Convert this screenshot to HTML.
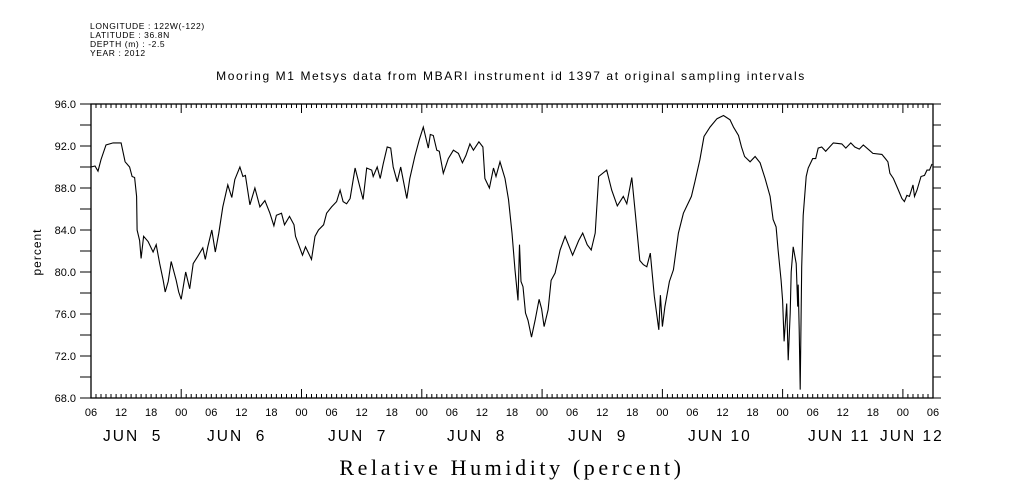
<!DOCTYPE html>
<html><head><meta charset="utf-8"><style>
html,body{margin:0;padding:0;background:#fff}
svg{display:block}
text{font-family:"Liberation Sans",sans-serif;fill:#000}
</style></head><body>
<svg id="chart" width="1009" height="504" viewBox="0 0 1009 504" xmlns="http://www.w3.org/2000/svg">
<g font-size="8.5" letter-spacing="0.6">
<text x="90" y="29">LONGITUDE : 122W(-122)</text>
<text x="90" y="38">LATITUDE : 36.8N</text>
<text x="90" y="47">DEPTH (m) : -2.5</text>
<text x="90" y="56">YEAR : 2012</text>
</g>
<text x="511" y="80" font-size="12" letter-spacing="1.6" text-anchor="middle">Mooring M1 Metsys data from MBARI instrument id 1397 at original sampling intervals</text>
<text transform="translate(41,252) rotate(-90)" font-size="12" letter-spacing="1" text-anchor="middle">percent</text>
<text x="512" y="475" font-size="22" letter-spacing="3.6" text-anchor="middle" style="font-family:'Liberation Serif',serif">Relative Humidity (percent)</text>
<g id="axes"></g>
<g id="series"></g>
</svg>
<script>
const hours=[0,0.8,1.4,2,3,4.4,6,6.8,7.7,8.2,8.7,9.1,9.2,9.7,10,10.5,11.4,12.4,13,13.7,14.4,14.8,15.4,16,17,17.5,18,18.9,19.7,20.4,21.3,22.3,22.8,23.3,24.1,24.8,25.5,26.3,27.3,28.1,28.7,29.7,30.3,30.8,31.7,32.7,33.7,34.7,35.7,36.5,37,38,38.6,39.6,40.5,40.8,42.2,42.8,43.3,44,44.7,45.4,46.4,47,48,49,49.7,50.3,51,51.7,52.7,53.7,54.3,55,56,56.3,57.1,57.7,58.3,59.1,59.8,60.3,61.1,61.8,63,63.6,64.6,65.5,66.3,67.3,67.7,68.3,69,69.5,70.3,71.3,72.3,73.3,74.1,74.8,75.6,76.3,77.4,78.2,78.6,79.5,80.3,80.8,81.6,82.6,83.3,84,84.6,85.2,85.5,85.8,86.2,86.7,87.2,87.9,88.6,89.4,89.9,90.4,91.2,91.8,92.6,93.6,94.6,96.1,97.3,98.1,99,99.8,100.6,101.3,102.9,103.9,105,106.2,106.9,107.9,108.6,109.5,110.2,110.9,111.6,112.4,113.3,113.6,114,114.5,115.4,116.2,117.2,118.2,119.8,120.5,121.5,122.3,123.5,124.9,126.2,127.5,128.2,129.2,129.8,130.4,131.5,132.5,133.5,134.5,135.5,136.1,136.7,137.1,137.7,138,138.3,138.8,139.1,139.5,139.7,140.1,140.7,141,141.1,141.3,141.5,141.8,142.1,142.7,143.1,144,144.6,145.1,145.8,146.6,148.1,149.8,150.6,151.6,152.4,153.3,154.1,155.3,156,157.8,158.5,159,159.4,160.1,161.1,161.8,162.3,162.8,163.3,164,164.3,164.8,165.6,166.3,166.8,167.3,167.8];
const values=[90,90.1,89.6,90.7,92.1,92.3,92.3,90.5,90,89.1,89,87.2,84,83,81.3,83.4,82.9,81.9,82.6,80.8,79.2,78.1,79.1,81,79.2,78.1,77.4,80,78.4,80.8,81.5,82.3,81.2,82.4,84,81.9,83.7,86.2,88.3,87.1,88.8,90,89.1,89.2,86.4,88,86.2,86.8,85.6,84.4,85.4,85.6,84.5,85.3,84.5,83.4,81.6,82.4,81.9,81.2,83.4,84,84.5,85.6,86.2,86.7,87.8,86.7,86.5,87,89.9,88,86.9,89.9,89.7,89.1,90,88.9,90.3,91.9,91.8,90,88.6,90,87,88.9,91,92.6,93.8,91.8,93.1,93,91.6,91.5,89.4,90.8,91.6,91.3,90.4,91.1,92.2,91.6,92.4,91.9,88.9,88,89.9,89.1,90.5,88.9,86.9,83.7,80.2,77.3,82.6,79.1,78.6,76.1,75.4,73.8,75.4,77.4,76.5,74.8,76.4,79.2,79.9,82.1,83.4,81.6,83,83.7,82.6,82.1,83.7,89.1,89.7,87.8,86.3,87.2,86.5,89,85.6,81.1,80.7,80.5,81.8,77.7,74.5,77.8,74.8,76.7,79.1,80.2,83.7,85.6,87.2,88.6,90.7,92.9,93.8,94.6,94.9,94.5,93.8,93,91.9,91,90.5,91,90.4,88.9,87.2,85,84.3,82.1,79.2,77.3,73.4,77,71.6,76.1,80,82.4,80.8,76.7,78.8,74.5,68.8,80.5,85.4,89.1,89.9,90.8,90.8,91.8,91.9,91.5,92.3,92.2,91.8,92.3,91.9,91.7,92.1,91.6,91.3,91.2,90.8,90.5,89.4,88.9,87.8,87,86.7,87.3,87.2,88.3,87.2,87.8,89.1,89.2,89.7,89.7,90.3];
const yTickValues=[68,72,76,80,84,88,92,96];
const yTickLabels=["68.0","72.0","76.0","80.0","84.0","88.0","92.0","96.0"];
const xTickHours=[0,6,12,18,24,30,36,42,48,54,60,66,72,78,84,90,96,102,108,114,120,126,132,138,144,150,156,162,168];
const xTickLabels=["06","12","18","00","06","12","18","00","06","12","18","00","06","12","18","00","06","12","18","00","06","12","18","00","06","12","18","00","06"];
const dateLabels=["JUN  5","JUN  6","JUN  7","JUN  8","JUN  9","JUN 10","JUN 11","JUN 12"];
const dateLabelX=[103,207,328,447,568,688,808,880];

const L=91,R=933,T=104,B=398,H0=0,H1=168,V0=68,V1=96;
const xs=h=>L+(h-H0)/(H1-H0)*(R-L);
const ys=v=>B-(v-V0)/(V1-V0)*(B-T);
const NS="http://www.w3.org/2000/svg";
const axes=document.getElementById('axes');
function mk(tag,attrs,parent){const e=document.createElementNS(NS,tag);for(const k in attrs)e.setAttribute(k,attrs[k]);parent.appendChild(e);return e;}
const frame=mk('rect',{x:L,y:T,width:R-L,height:B-T,fill:'none',stroke:'#000','stroke-width':1.3},axes);


let d='';
for(let h=0;h<=168;h++){
  const x=xs(h).toFixed(1);
  const midnight=((h+6)%24===0);
  const len=midnight?9:4;
  d+=`M${x},${T}v${len}M${x},${B}v${-len}`;
}
for(let v=68;v<=96;v+=2){
  const y=ys(v).toFixed(1);
  d+=`M${L},${y}h-11M${R},${y}h8`;
}
const ticks=mk('path',{d:d,stroke:'#000','stroke-width':1,fill:'none'},axes);


yTickValues.forEach((v,i)=>{
  const t=mk('text',{x:76,y:ys(v)+4,'font-size':11,'text-anchor':'end'},axes);
  
  
  t.textContent=yTickLabels[i];
});
xTickHours.forEach((h,i)=>{
  const t=mk('text',{x:xs(h),y:416,'font-size':11,'text-anchor':'middle'},axes);
  
  
  t.textContent=xTickLabels[i];
});
dateLabels.forEach((s,i)=>{
  const t=mk('text',{x:dateLabelX[i],y:441,'font-size':15.5,'letter-spacing':2},axes);
  
  
  t.setAttribute('style','white-space:pre');
  t.textContent=s;
});
const pts=hours.map((h,i)=>xs(h).toFixed(1)+','+ys(values[i]).toFixed(1)).join(' ');
const line=mk('polyline',{points:pts,fill:'none',stroke:'#000','stroke-width':1.1},document.getElementById('series'));


</script>
</body></html>
